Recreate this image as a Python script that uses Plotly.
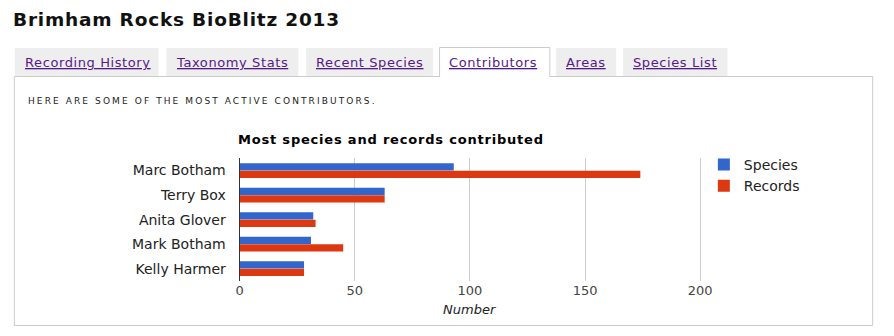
import plotly.graph_objects as go

# Contributor totals
contributors = ["Marc Botham", "Terry Box", "Anita Glover", "Mark Botham", "Kelly Harmer"]
species = [93, 63, 32, 31, 28]
records = [174, 63, 33, 45, 28]

tab_labels = ["Recording History", "Taxonomy Stats", "Recent Species",
              "Contributors", "Areas", "Species List"]
x_ticks = [0, 50, 100, 150, 200]

W, H = 894, 336
FONT = "DejaVu Sans"
BLUE, RED = "#3366cc", "#dc3912"
LINK = "#551a8b"
BORDER = "#cccccc"


def px(x):
    return x / W


def py(y):
    return 1 - y / H


def spaced(text, spacing):
    return f"<span style='letter-spacing:{spacing}px'>{text}</span>"


fig = go.Figure()
fig.add_trace(go.Bar(name="Species", y=contributors, x=species, orientation="h",
                     marker=dict(color=BLUE, line=dict(width=0))))
fig.add_trace(go.Bar(name="Records", y=contributors, x=records, orientation="h",
                     marker=dict(color=RED, line=dict(width=0))))

shapes = []
annotations = []

# Panel around the chart
shapes.append(dict(type="rect", xref="paper", yref="paper",
                   x0=px(10.5), x1=px(882.5), y0=py(325.5), y1=py(76.5),
                   line=dict(color=BORDER, width=1), fillcolor="white", layer="below"))

# Tabs
tab_boxes = [(11, 157), (165, 299), (307, 436), (442, 555), (561, 622), (629, 735)]
active = 3
for i, ((x0, x1), label) in enumerate(zip(tab_boxes, tab_labels)):
    if i == active:
        shapes.append(dict(type="rect", xref="paper", yref="paper",
                           x0=px(x0 + 0.5), x1=px(x1 - 0.5), y0=py(77), y1=py(47.5),
                           line=dict(width=0), fillcolor="white", layer="below"))
        shapes.append(dict(type="path", xref="paper", yref="paper",
                           path=f"M {px(x0 + 0.5)},{py(77)} L {px(x0 + 0.5)},{py(47.5)} "
                                f"L {px(x1 - 0.5)},{py(47.5)} L {px(x1 - 0.5)},{py(77)}",
                           line=dict(color=BORDER, width=1), layer="below"))
    else:
        shapes.append(dict(type="rect", xref="paper", yref="paper",
                           x0=px(x0), x1=px(x1), y0=py(76), y1=py(48),
                           line=dict(width=0), fillcolor="#eeeeee", layer="below"))
    annotations.append(dict(text=f"<u>{spaced(label, 0.6)}</u>", xref="paper", yref="paper",
                            x=px(x0 + 8), y=py(62), xanchor="left", yanchor="middle",
                            showarrow=False, font=dict(family=FONT, size=13, color=LINK)))

# Page heading
annotations.append(dict(text=f"<b>{spaced('Brimham Rocks BioBlitz 2013', 0.8)}</b>",
                        xref="paper", yref="paper",
                        x=px(7), y=py(19), xanchor="left", yanchor="middle", showarrow=False,
                        font=dict(family=FONT, size=18.5, color="#111111")))

# Intro line
annotations.append(dict(text=spaced("HERE ARE SOME OF THE MOST ACTIVE CONTRIBUTORS.", 2.1),
                        xref="paper", yref="paper", x=px(22), y=py(101.5),
                        xanchor="left", yanchor="middle", showarrow=False,
                        font=dict(family=FONT, size=9, color="#222222")))

# Chart heading
annotations.append(dict(text=f"<b>{spaced('Most species and records contributed', 0.8)}</b>",
                        xref="paper", yref="paper",
                        x=px(236), y=py(139.5), xanchor="left", yanchor="middle", showarrow=False,
                        font=dict(family=FONT, size=13, color="#000000")))

# Horizontal axis title
annotations.append(dict(text="<i>Number</i>", xref="paper", yref="paper",
                        x=px(473.3), y=py(309.5), xanchor="center", yanchor="middle", showarrow=False,
                        font=dict(family=FONT, size=13, color="#222222")))

x0_px, x200_px = 239.3, 707.3
unit = (x200_px - x0_px) / 200
x_max = 201

fig.update_layout(
    width=W, height=H,
    margin=dict(l=0, r=0, t=0, b=0),
    paper_bgcolor="white", plot_bgcolor="rgba(0,0,0,0)",
    barmode="group", bargap=0.39, bargroupgap=0.03,
    font=dict(family=FONT, size=13, color="#222222"),
    xaxis=dict(domain=[px(x0_px), px(x0_px + unit * x_max)], range=[0, x_max],
               tickvals=x_ticks, showgrid=True, gridcolor=BORDER, gridwidth=1,
               zeroline=False, showline=False, ticks="",
               tickfont=dict(family=FONT, size=13, color="#444444"),
               fixedrange=True),
    yaxis=dict(domain=[py(281), py(158.3)], type="category",
               categoryorder="array", categoryarray=contributors, autorange="reversed",
               showgrid=False, zeroline=False, showline=True, linecolor="#333333", linewidth=1,
               ticks="", ticklabelstandoff=10,
               tickfont=dict(family=FONT, size=14, color="#222222"),
               fixedrange=True),
    showlegend=True,
    legend=dict(x=px(711), y=py(149), xanchor="left", yanchor="top",
                bgcolor="rgba(0,0,0,0)", borderwidth=0,
                font=dict(family=FONT, size=14, color="#222222"),
                itemclick=False, itemdoubleclick=False),
    shapes=shapes,
    annotations=annotations,
)

fig.write_html("out.html", config=dict(displayModeBar=False))
